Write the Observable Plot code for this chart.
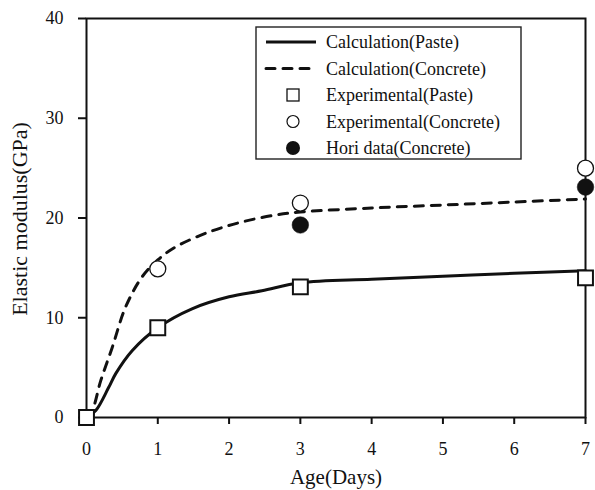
<!DOCTYPE html>
<html><head><meta charset="utf-8">
<script src="https://cdn.jsdelivr.net/npm/d3@7"></script>
<script src="https://cdn.jsdelivr.net/npm/@observablehq/plot@0.6"></script>
<style>
body{margin:0;background:#fff}
#chart{position:relative;width:595px;height:490px}
</style>
</head><body><div id="chart"></div>
<script>
// Tick values
const xTicks = [0, 1, 2, 3, 4, 5, 6, 7];
const yTicks = [0, 10, 20, 30, 40];

// Calculation (Paste) curve
const calcPasteDays = [0, 0.13, 0.31, 0.41, 0.64, 1, 1.48, 2, 2.46, 3, 4, 5, 6, 7];
const calcPasteE    = [0, 0.7, 3.0, 4.4, 6.7, 9.0, 10.9, 12.1, 12.7, 13.5, 13.85, 14.15, 14.45, 14.7];

// Calculation (Concrete) curve
const calcConcDays = [0, 0.08, 0.2, 0.36, 0.55, 0.78, 1, 1.25, 1.72, 2.18, 2.65, 3, 4, 5, 6, 7];
const calcConcE    = [0, 0.7, 3.7, 7.0, 11.1, 14.1, 15.8, 17.1, 18.6, 19.6, 20.3, 20.6, 21.0, 21.3, 21.6, 21.9];

// Experimental (Paste)
const expPasteDays = [0, 1, 3, 7];
const expPasteE    = [0, 9.0, 13.1, 14.0];

// Experimental (Concrete)
const expConcDays = [1, 3, 7];
const expConcE    = [14.9, 21.5, 25.0];

// Hori data (Concrete)
const horiDays = [3, 7];
const horiE    = [19.3, 23.1];

// Legend labels
const legendLabels = ["Calculation(Paste)", "Calculation(Concrete)", "Experimental(Paste)", "Experimental(Concrete)", "Hori data(Concrete)"];

const zip = (xs, ys) => xs.map((d, i) => ({day: d, E: ys[i]}));
const pasteCalc = zip(calcPasteDays, calcPasteE);
const concCalc = zip(calcConcDays, calcConcE);
const pasteExp = zip(expPasteDays, expPasteE);
const concExp = zip(expConcDays, expConcE);
const hori = zip(horiDays, horiE);

const ink = "#111";
const serif = "'Liberation Serif', 'Times New Roman', 'DejaVu Serif', serif";

const plot = Plot.plot({
  width: 595, height: 490,
  marginLeft: 86, marginRight: 10, marginTop: 18, marginBottom: 73,
  style: {fontFamily: serif, fontSize: "18px", color: ink, background: "#fff", overflow: "visible"},
  x: {domain: [0, 7]},
  y: {domain: [0, 40]},
  marks: [
    Plot.frame({stroke: ink, strokeWidth: 2}),
    Plot.axisX({ticks: xTicks, tickSize: 7, strokeWidth: 2, text: null, label: null}),
    Plot.axisX({ticks: xTicks, tickSize: 0, tickPadding: 0, dy: 25, fontSize: 18, label: null, tickFormat: d => String(d)}),
    Plot.axisY({ticks: yTicks, tickSize: 8, tickPadding: 15, strokeWidth: 2, fontSize: 18, label: null, tickFormat: d => String(d)}),
    Plot.text(["Age(Days)"], {frameAnchor: "bottom", dy: 60, fontSize: 21, fill: ink, textAnchor: "middle", lineAnchor: "middle"}),
    Plot.text(["Elastic modulus(GPa)"], {frameAnchor: "left", dx: -67, dy: 1, rotate: -90, fontSize: 22, fill: ink, textAnchor: "middle", lineAnchor: "middle"}),
    Plot.line(pasteCalc, {x: "day", y: "E", curve: "catmull-rom", stroke: ink, strokeWidth: 3}),
    Plot.line(concCalc, {x: "day", y: "E", curve: "catmull-rom", stroke: ink, strokeWidth: 3, strokeDasharray: "9,8", strokeLinecap: "round"}),
    Plot.dot(pasteExp, {x: "day", y: "E", symbol: "square", r: 8.4, fill: "white", stroke: ink, strokeWidth: 2}),
    Plot.dot(concExp, {x: "day", y: "E", symbol: "circle", r: 8, fill: "white", stroke: ink, strokeWidth: 1.3}),
    Plot.dot(hori, {x: "day", y: "E", symbol: "circle", r: 8.3, fill: ink, stroke: ink, strokeWidth: 0.5})
  ]
});

document.getElementById("chart").appendChild(plot);

// Legend drawn inside the plot SVG
const svg = d3.select(plot);
const lg = svg.append("g").attr("transform", "translate(256,27)");
lg.append("rect").attr("width", 265).attr("height", 132).attr("fill", "white").attr("stroke", "#222").attr("stroke-width", 1.4);
const rowY = i => 15 + i * 26.5;
legendLabels.forEach((lab, i) => {
  const g = lg.append("g").attr("transform", `translate(0,${rowY(i)})`);
  if (i === 0 || i === 1) {
    g.append("line").attr("x1", 10).attr("x2", 60).attr("stroke", ink).attr("stroke-width", 3)
      .attr("stroke-dasharray", i === 1 ? "9,8" : null).attr("stroke-linecap", i === 1 ? "round" : null);
  } else if (i === 2) {
    g.append("rect").attr("x", 31).attr("y", -6).attr("width", 12).attr("height", 12).attr("fill", "white").attr("stroke", ink).attr("stroke-width", 1.3);
  } else if (i === 3) {
    g.append("circle").attr("cx", 37).attr("r", 6).attr("fill", "white").attr("stroke", ink).attr("stroke-width", 1.2);
  } else {
    g.append("circle").attr("cx", 37).attr("r", 7).attr("fill", ink);
  }
  g.append("text").attr("x", 70).attr("dy", "0.35em").attr("font-size", 18).attr("fill", ink)
    .style("text-anchor", "start").text(lab);
});

// Force the serif face on every text element
svg.selectAll("text").style("font-family", serif);
</script>
</body></html>
